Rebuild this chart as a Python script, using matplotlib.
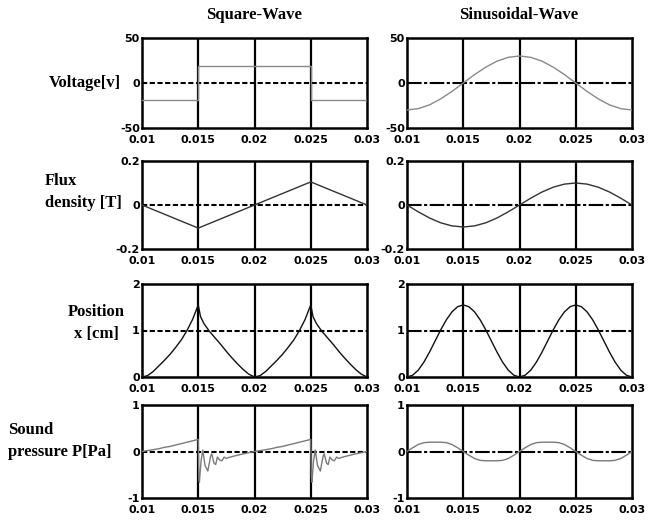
import matplotlib.pyplot as plt
import numpy as np

# --- datos ---
x_ticks = [0.01, 0.015, 0.02, 0.025, 0.03]
x_ticklabels = ['0.01', '0.015', '0.02', '0.025', '0.03']

# Voltaje
t_volt_sq = [0.01, 0.015, 0.015, 0.025, 0.025, 0.03]
volt_sq = [-19, -19, 19, 19, -19, -19]
t_volt_sin = [0.010, 0.011, 0.012, 0.013, 0.014, 0.015, 0.016, 0.017, 0.018, 0.019, 0.020,
              0.021, 0.022, 0.023, 0.024, 0.025, 0.026, 0.027, 0.028, 0.029, 0.030]
volt_sin = [-30, -28.5, -24.3, -17.6, -9.3, 0, 9.3, 17.6, 24.3, 28.5, 30,
            28.5, 24.3, 17.6, 9.3, 0, -9.3, -17.6, -24.3, -28.5, -30]

# Densidad de flujo
t_flux_sq = [0.01, 0.015, 0.025, 0.03]
flux_sq = [0, -0.105, 0.105, 0]
t_flux_sin = t_volt_sin
flux_sin = [0, -0.031, -0.059, -0.081, -0.095, -0.1, -0.095, -0.081, -0.059, -0.031, 0,
            0.031, 0.059, 0.081, 0.095, 0.1, 0.095, 0.081, 0.059, 0.031, 0]

# Posicion
t_pos_sq = [0.0100, 0.0105, 0.0110, 0.0115, 0.0120, 0.0125, 0.0130, 0.0135, 0.0140, 0.0145, 0.0150,
            0.0152, 0.0155, 0.0160, 0.0165, 0.0170, 0.0175, 0.0180, 0.0185, 0.0190, 0.0195, 0.0200,
            0.0205, 0.0210, 0.0215, 0.0220, 0.0225, 0.0230, 0.0235, 0.0240, 0.0245, 0.0250,
            0.0252, 0.0255, 0.0260, 0.0265, 0.0270, 0.0275, 0.0280, 0.0285, 0.0290, 0.0295, 0.0300]
pos_sq = [0, 0.03, 0.12, 0.24, 0.36, 0.49, 0.64, 0.80, 1.0, 1.24, 1.55,
          1.30, 1.15, 0.98, 0.84, 0.70, 0.55, 0.41, 0.28, 0.16, 0.06, 0.0,
          0.03, 0.12, 0.24, 0.36, 0.49, 0.64, 0.80, 1.0, 1.24, 1.55,
          1.30, 1.15, 0.98, 0.84, 0.70, 0.55, 0.41, 0.28, 0.16, 0.06, 0.0]
t_pos_sin = [0.0100, 0.0105, 0.0110, 0.0115, 0.0120, 0.0125, 0.0130, 0.0135, 0.0140, 0.0145, 0.0150,
             0.0155, 0.0160, 0.0165, 0.0170, 0.0175, 0.0180, 0.0185, 0.0190, 0.0195, 0.0200,
             0.0205, 0.0210, 0.0215, 0.0220, 0.0225, 0.0230, 0.0235, 0.0240, 0.0245, 0.0250,
             0.0255, 0.0260, 0.0265, 0.0270, 0.0275, 0.0280, 0.0285, 0.0290, 0.0295, 0.0300]
pos_sin = [0, 0.038, 0.148, 0.319, 0.535, 0.775, 1.015, 1.231, 1.402, 1.512, 1.55,
           1.512, 1.402, 1.231, 1.015, 0.775, 0.535, 0.319, 0.148, 0.038, 0,
           0.038, 0.148, 0.319, 0.535, 0.775, 1.015, 1.231, 1.402, 1.512, 1.55,
           1.512, 1.402, 1.231, 1.015, 0.775, 0.535, 0.319, 0.148, 0.038, 0]

# Presion sonora
t_snd_sq = [0.0100, 0.0105, 0.0110, 0.0115, 0.0120, 0.0125, 0.0130, 0.0135, 0.0140, 0.0145, 0.0150,
            0.01505, 0.0151, 0.01525, 0.0154, 0.0156, 0.01585, 0.0161, 0.0162, 0.0164, 0.01655,
            0.0167, 0.0169, 0.0171, 0.0173, 0.0175, 0.0177, 0.0180, 0.0185, 0.0190, 0.0195, 0.0200,
            0.0205, 0.0210, 0.0215, 0.0220, 0.0225, 0.0230, 0.0235, 0.0240, 0.0245, 0.0250,
            0.02505, 0.0251, 0.02525, 0.0254, 0.0256, 0.02585, 0.0261, 0.0262, 0.0264, 0.02655,
            0.0267, 0.0269, 0.0271, 0.0273, 0.0275, 0.0277, 0.0280, 0.0285, 0.0290, 0.0295, 0.0300]
snd_sq = [0.0, 0.02, 0.04, 0.06, 0.09, 0.11, 0.14, 0.17, 0.20, 0.23, 0.26,
          -0.55, -0.66, -0.2, 0.03, -0.3, -0.42, -0.1, -0.05, -0.25, -0.28,
          -0.12, -0.18, -0.2, -0.12, -0.15, -0.13, -0.11, -0.08, -0.05, -0.025, 0.0,
          0.02, 0.04, 0.06, 0.09, 0.11, 0.14, 0.17, 0.20, 0.23, 0.26,
          -0.55, -0.66, -0.2, 0.03, -0.3, -0.42, -0.1, -0.05, -0.25, -0.28,
          -0.12, -0.18, -0.2, -0.12, -0.15, -0.13, -0.11, -0.08, -0.05, -0.025, 0.0]
t_snd_sin = t_pos_sin
snd_sin = [0, 0.08, 0.15, 0.19, 0.2, 0.2, 0.2, 0.19, 0.15, 0.08, 0,
           -0.08, -0.15, -0.19, -0.2, -0.2, -0.2, -0.19, -0.15, -0.08, 0,
           0.08, 0.15, 0.19, 0.2, 0.2, 0.2, 0.19, 0.15, 0.08, 0,
           -0.08, -0.15, -0.19, -0.2, -0.2, -0.2, -0.19, -0.15, -0.08, 0]

filas = [
    # (t izq, y izq, t der, y der, color, yticks, yticklabels)
    (t_volt_sq, volt_sq, t_volt_sin, volt_sin, '#8a8a8a', [-50, 0, 50], ['-50', '0', '50']),
    (t_flux_sq, flux_sq, t_flux_sin, flux_sin, '#333333', [-0.2, 0, 0.2], ['-0.2', '0', '0.2']),
    (t_pos_sq, pos_sq, t_pos_sin, pos_sin, '#111111', [0, 1, 2], ['0', '1', '2']),
    (t_snd_sq, snd_sq, t_snd_sin, snd_sin, '#7a7a7a', [-1, 0, 1], ['-1', '0', '1']),
]

# posiciones de los ejes (pixeles -> fraccion)
W, H = 648, 521
filas_px = [(38, 128), (161, 249), (284, 377), (405, 498)]
cols_px = [142, 407]
ancho_px = 225

fig = plt.figure(figsize=(6.48, 5.21), dpi=100)

for i, (tl, yl, tr, yr, color, yt, ytl) in enumerate(filas):
    top, bot = filas_px[i]
    for j, (tx, yy) in enumerate([(tl, yl), (tr, yr)]):
        ax = fig.add_axes([cols_px[j] / W, 1 - bot / H, ancho_px / W, (bot - top) / H])
        ax.plot(tx, yy, color=color, linewidth=1.0, zorder=3)
        ax.set_xlim(0.01, 0.03)
        ax.set_ylim(yt[0], yt[-1])
        ax.set_xticks(x_ticks)
        ax.set_xticklabels(x_ticklabels)
        ax.set_yticks(yt)
        ax.set_yticklabels(ytl)
        for xv in x_ticks[1:-1]:
            ax.axvline(xv, color='black', linewidth=1.6, zorder=2)
        if j == 0:
            ax.axhline(yt[1], color='black', linewidth=1.5, dashes=(2.5, 1.2), zorder=2)
        else:
            ax.axhline(yt[1], color='black', linewidth=1.5, dashes=(7, 1.2, 1.5, 1.2), zorder=2)
        for s in ax.spines.values():
            s.set_linewidth(1.8)
        ax.tick_params(length=0, pad=1.5)
        ax.tick_params(axis='x', pad=5)
        for lab in ax.get_xticklabels() + ax.get_yticklabels():
            lab.set_fontweight('bold')
            lab.set_fontsize(8)
            lab.set_family('DejaVu Sans')

serif = 'Liberation Serif'
fig.text((142 + 112) / W, 1 - 15 / H, 'Square-Wave', ha='center', va='center',
         fontsize=12, fontweight='bold', family=serif)
fig.text((407 + 112) / W, 1 - 15 / H, 'Sinusoidal-Wave', ha='center', va='center',
         fontsize=12, fontweight='bold', family=serif)
fig.text(121 / W, 1 - 83 / H, 'Voltage[v]', ha='right', va='center',
         fontsize=12, fontweight='bold', family=serif)
fig.text(45 / W, 1 - 192 / H, 'Flux\ndensity [T]', ha='left', va='center',
         fontsize=12, fontweight='bold', family=serif, linespacing=1.5)
fig.text(96 / W, 1 - 323 / H, 'Position\nx [cm]', ha='center', va='center',
         fontsize=12, fontweight='bold', family=serif, linespacing=1.5, multialignment='center')
fig.text(8 / W, 1 - 441 / H, 'Sound\npressure P[Pa]', ha='left', va='center',
         fontsize=12, fontweight='bold', family=serif, linespacing=1.5)

plt.savefig('out.png', dpi=100)
